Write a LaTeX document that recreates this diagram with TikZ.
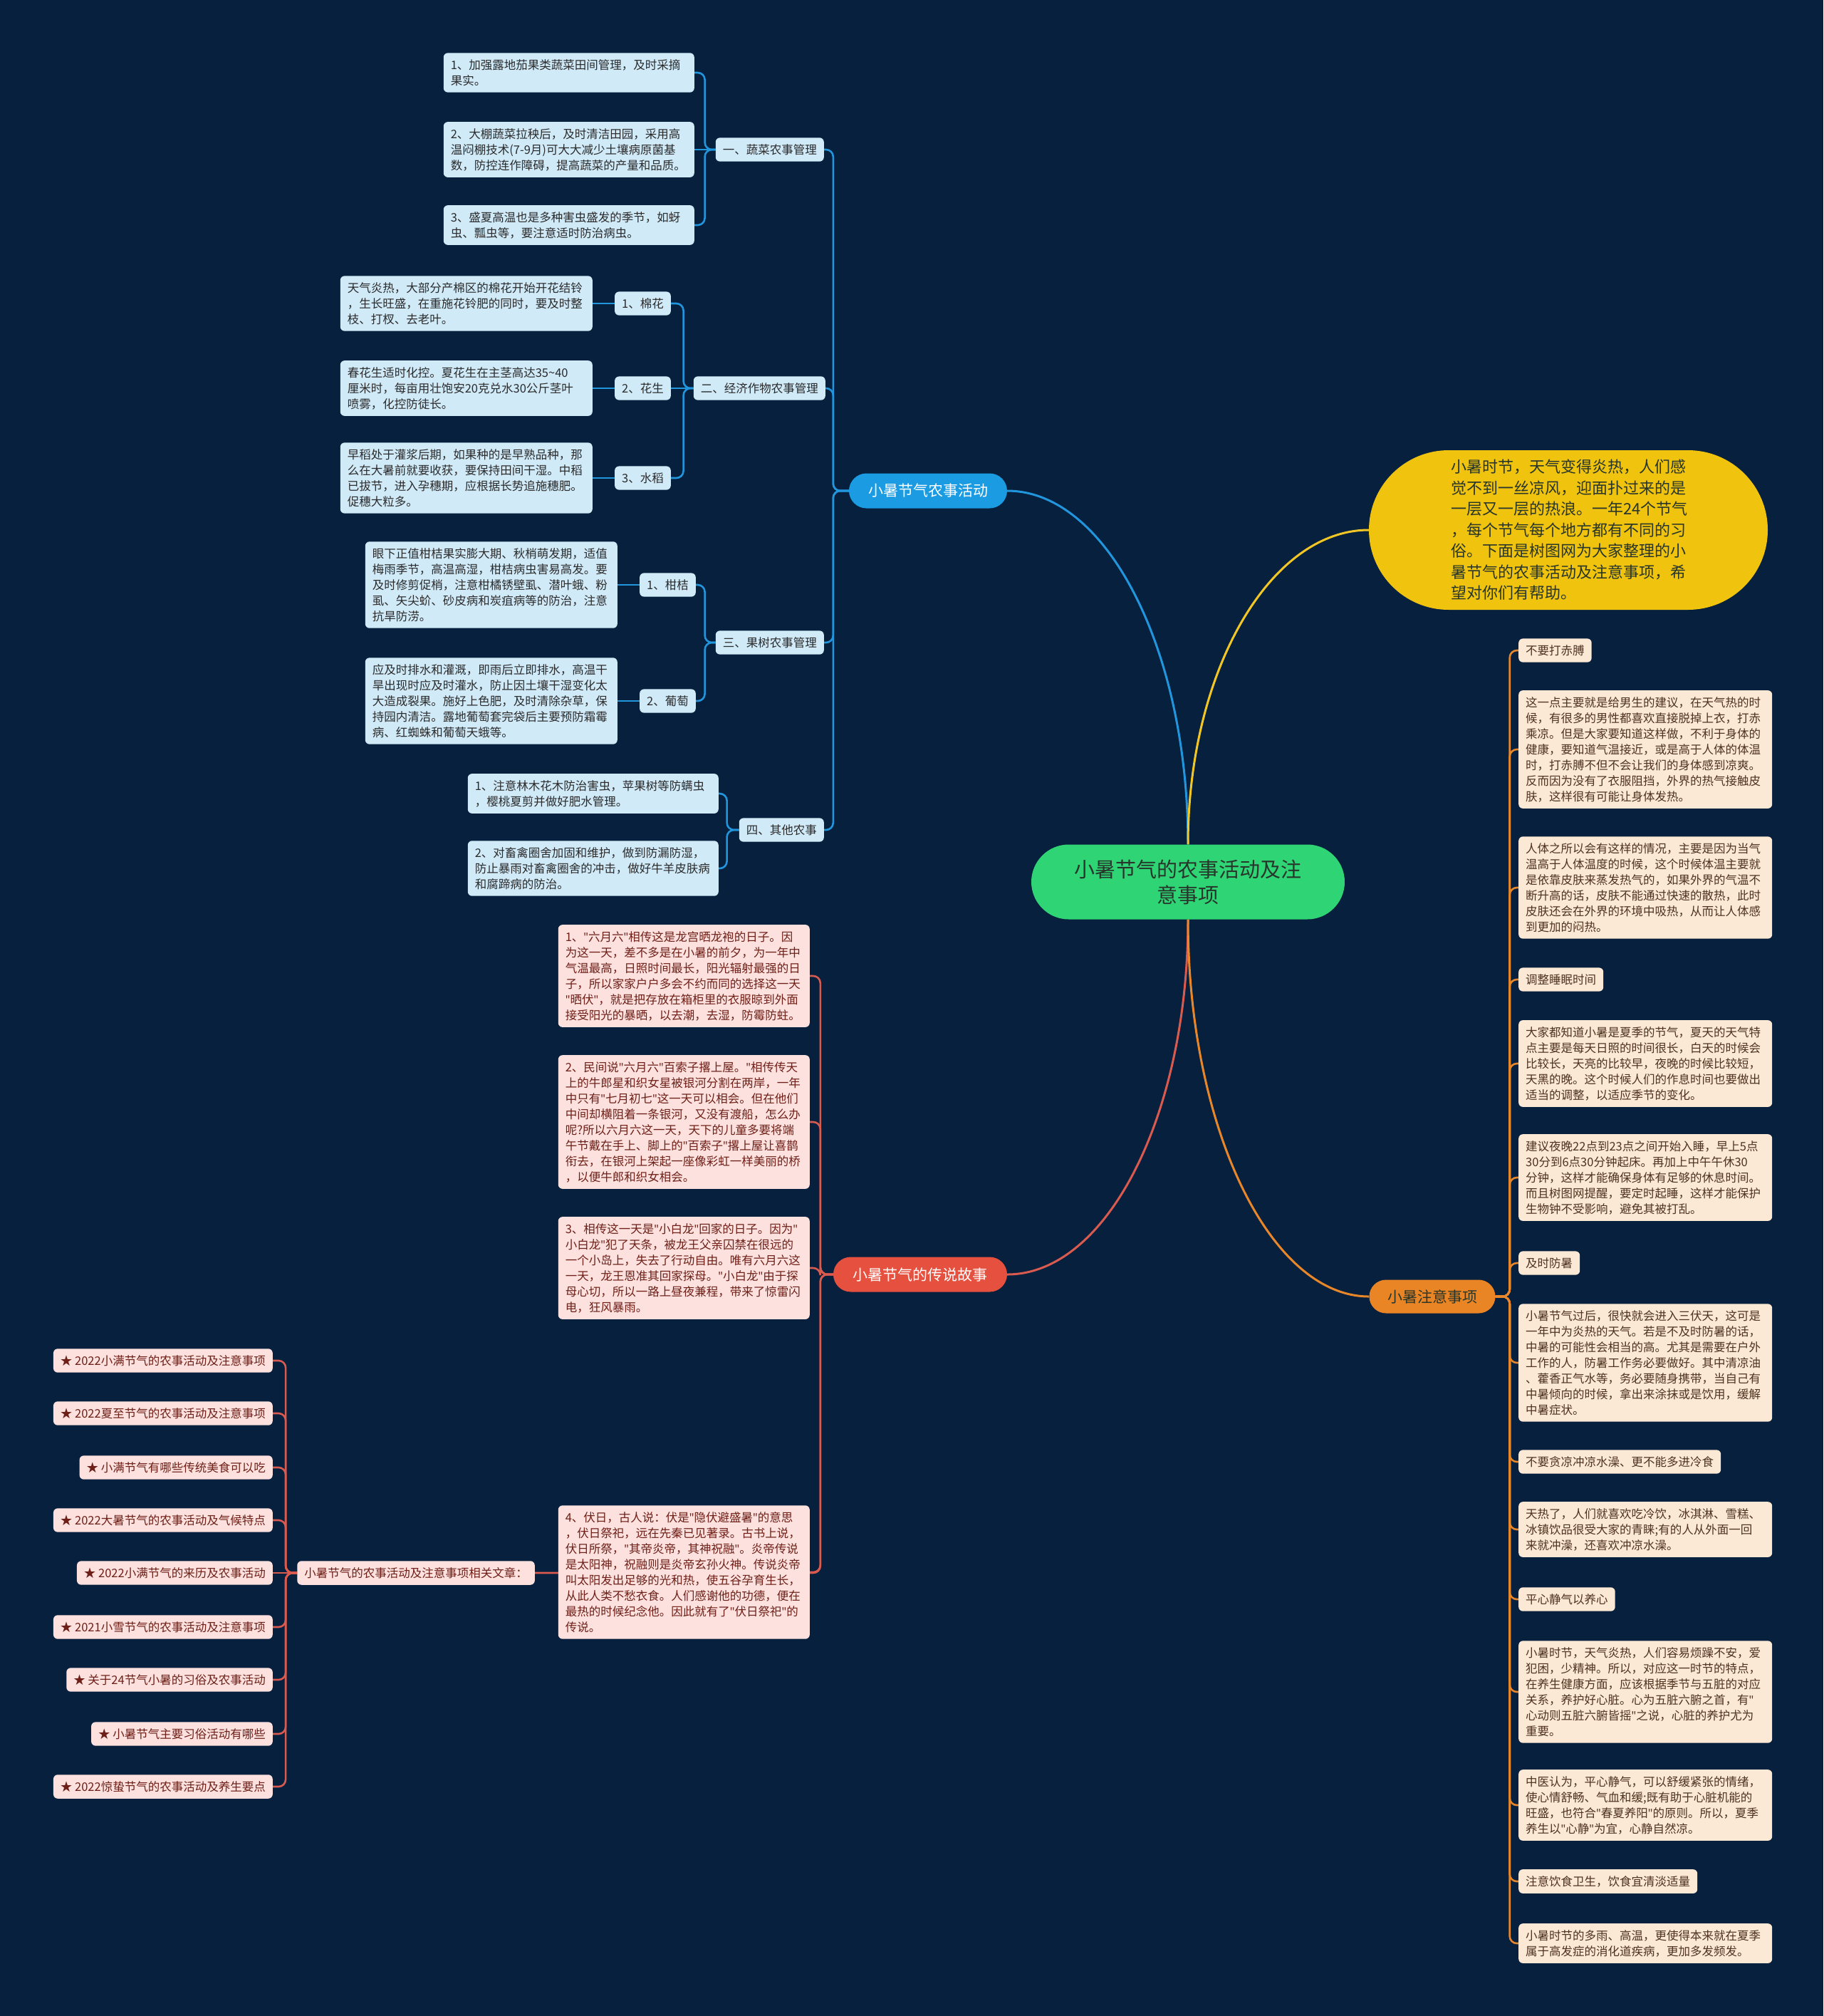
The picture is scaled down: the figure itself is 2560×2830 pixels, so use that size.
\documentclass[tikz,border=0pt]{standalone}
\usepackage{fontspec}
\setmainfont{Noto Sans CJK SC}
\newfontfamily\qfont{Noto Sans}
\newcommand\Q{{\qfont"}}
\definecolor{bgc}{HTML}{06203E}
\definecolor{blueline}{HTML}{2196DC}
\definecolor{bluepill}{HTML}{1A9BE2}
\definecolor{lblue}{HTML}{D0EAF8}
\definecolor{vtxt}{HTML}{2B2B2B}
\definecolor{redline}{HTML}{D95A4E}
\definecolor{redpill}{HTML}{E5503F}
\definecolor{pink}{HTML}{FCE1DE}
\definecolor{rtxt}{HTML}{6E1F17}
\definecolor{orangeline}{HTML}{E8872A}
\definecolor{orangepill}{HTML}{E98524}
\definecolor{beige}{HTML}{FBE8D5}
\definecolor{otxt}{HTML}{4D3320}
\definecolor{yellowpill}{HTML}{F0C30F}
\definecolor{yellowline}{HTML}{F2C625}
\definecolor{greenpill}{HTML}{2FD475}
\definecolor{ctxt}{HTML}{27352B}
\pgfdeclarelayer{lines}
\pgfsetlayers{lines,main}
\begin{document}
\begin{tikzpicture}[x=1pt,y=-1pt,
  every node/.style={inner sep=0pt},
  base/.style={rounded corners=6pt, inner xsep=10pt, inner ysep=9pt, font=\fontsize{16.5}{22}\selectfont, align=left},
  vbox/.style={base, fill=lblue, text=vtxt},
  pbox/.style={base, fill=pink, text=rtxt},
  obox/.style={base, fill=beige, text=otxt},
  pill/.style={align=center, font=\fontsize{21}{25}\selectfont},
  bl/.style={draw=blueline, line width=2.6pt, rounded corners=10pt},
  rl/.style={draw=redline, line width=2.6pt, rounded corners=10pt},
  ol/.style={draw=orangeline, line width=2.6pt, rounded corners=10pt},
]
\useasboundingbox (0,0) rectangle (2560,2830);

% center and main branches
\node[fill=greenpill, text=ctxt, rounded corners=52.5pt, minimum width=440pt, minimum height=105pt, align=center, font=\fontsize{29}{36}\selectfont] (C) at (1668,1238) {小暑节气的农事活动及注\\意事项};
\node[pill, fill=bluepill, text=white, rounded corners=24.5pt, minimum width=222pt, minimum height=49pt] (B) at (1303,689) {小暑节气农事活动};
\node[pill, fill=redpill, text=white, rounded corners=24.5pt, minimum width=244pt, minimum height=49pt] (R) at (1292,1789) {小暑节气的传说故事};
\node[pill, fill=orangepill, text=ctxt, rounded corners=23.5pt, minimum width=177pt, minimum height=47pt] (O) at (2011,1820) {小暑注意事项};
\node[fill=yellowpill, text=ctxt, rounded corners=112pt, minimum width=560pt, minimum height=224pt, align=left, text width=330pt, font=\fontsize{22}{29.5}\selectfont] (Y) at (2202,744) {小暑时节，天气变得炎热，人们感\\觉不到一丝凉风，迎面扑过来的是\\一层又一层的热浪。一年24个节气\\，每个节气每个地方都有不同的习\\俗。下面是树图网为大家整理的小\\暑节气的农事活动及注意事项，希\\望对你们有帮助。};

% blue level 2
\node[vbox, anchor=east] (L1) at (1157,210) {一、蔬菜农事管理};
\node[vbox, anchor=east] (L2) at (1159,545) {二、经济作物农事管理};
\node[vbox, anchor=east] (L3) at (1157,902) {三、果树农事管理};
\node[vbox, anchor=east] (L4) at (1157,1165) {四、其他农事};

% vegetables
\node[vbox, anchor=east, text width=332pt] (v1) at (975,102) {1、加强露地茄果类蔬菜田间管理，及时采摘\\果实。};
\node[vbox, anchor=east, text width=332pt] (v2) at (975,210) {2、大棚蔬菜拉秧后，及时清洁田园，采用高\\温闷棚技术(7-9月)可大大减少土壤病原菌基\\数，防控连作障碍，提高蔬菜的产量和品质。};
\node[vbox, anchor=east, text width=332pt] (v3) at (975,316) {3、盛夏高温也是多种害虫盛发的季节，如蚜\\虫、瓢虫等，要注意适时防治病虫。};

% cash crops
\node[vbox, anchor=east] (c1) at (942,426) {1、棉花};
\node[vbox, anchor=east] (c2) at (942,545) {2、花生};
\node[vbox, anchor=east] (c3) at (942,671) {3、水稻};
\node[vbox, anchor=east, text width=334pt] (d1) at (832,426) {天气炎热，大部分产棉区的棉花开始开花结铃\\，生长旺盛，在重施花铃肥的同时，要及时整\\枝、打杈、去老叶。};
\node[vbox, anchor=east, text width=334pt] (d2) at (832,545) {春花生适时化控。夏花生在主茎高达35\textasciitilde 40\\厘米时，每亩用壮饱安20克兑水30公斤茎叶\\喷雾，化控防徒长。};
\node[vbox, anchor=east, text width=334pt] (d3) at (832,671) {早稻处于灌浆后期，如果种的是早熟品种，那\\么在大暑前就要收获，要保持田间干湿。中稻\\已拔节，进入孕穗期，应根据长势追施穗肥。\\促穗大粒多。};

% fruit trees
\node[vbox, anchor=east] (k1) at (977,821) {1、柑桔};
\node[vbox, anchor=east] (k2) at (977,984) {2、葡萄};
\node[vbox, anchor=east, text width=334pt] (f1) at (867,821) {眼下正值柑桔果实膨大期、秋梢萌发期，适值\\梅雨季节，高温高湿，柑桔病虫害易高发。要\\及时修剪促梢，注意柑橘锈壁虱、潜叶蛾、粉\\虱、矢尖蚧、砂皮病和炭疽病等的防治，注意\\抗旱防涝。};
\node[vbox, anchor=east, text width=334pt] (f2) at (867,984) {应及时排水和灌溉，即雨后立即排水，高温干\\旱出现时应及时灌水，防止因土壤干湿变化太\\大造成裂果。施好上色肥，及时清除杂草，保\\持园内清洁。露地葡萄套完袋后主要预防霜霉\\病、红蜘蛛和葡萄天蛾等。};

% other
\node[vbox, anchor=east, text width=332pt] (e1) at (1009,1114) {1、注意林木花木防治害虫，苹果树等防螨虫\\，樱桃夏剪并做好肥水管理。};
\node[vbox, anchor=east, text width=332pt] (e2) at (1009,1219) {2、对畜禽圈舍加固和维护，做到防漏防湿，\\防止暴雨对畜禽圈舍的冲击，做好牛羊皮肤病\\和腐蹄病的防治。};

% legends
\node[pbox, anchor=east, text width=333pt] (s1) at (1137,1370) {1、\Q{}六月六\Q{}相传这是龙宫晒龙袍的日子。因\\为这一天，差不多是在小暑的前夕，为一年中\\气温最高，日照时间最长，阳光辐射最强的日\\子，所以家家户户多会不约而同的选择这一天\\\Q{}晒伏\Q{}，就是把存放在箱柜里的衣服晾到外面\\接受阳光的暴晒，以去潮，去湿，防霉防蛀。};
\node[pbox, anchor=east, text width=333pt] (s2) at (1137,1575) {2、民间说\Q{}六月六\Q{}百索子撂上屋。\Q{}相传传天\\上的牛郎星和织女星被银河分割在两岸，一年\\中只有\Q{}七月初七\Q{}这一天可以相会。但在他们\\中间却横阻着一条银河，又没有渡船，怎么办\\呢?所以六月六这一天，天下的儿童多要将端\\午节戴在手上、脚上的\Q{}百索子\Q{}撂上屋让喜鹊\\衔去，在银河上架起一座像彩虹一样美丽的桥\\，以便牛郎和织女相会。};
\node[pbox, anchor=east, text width=333pt] (s3) at (1137,1780) {3、相传这一天是\Q{}小白龙\Q{}回家的日子。因为\Q{}\\小白龙\Q{}犯了天条，被龙王父亲囚禁在很远的\\一个小岛上，失去了行动自由。唯有六月六这\\一天，龙王恩准其回家探母。\Q{}小白龙\Q{}由于探\\母心切，所以一路上昼夜兼程，带来了惊雷闪\\电，狂风暴雨。};
\node[pbox, anchor=east, text width=333pt] (s4) at (1137,2207) {4、伏日，古人说：伏是\Q{}隐伏避盛暑\Q{}的意思\\，伏日祭祀，远在先秦已见著录。古书上说，\\伏日所祭，\Q{}其帝炎帝，其神祝融\Q{}。炎帝传说\\是太阳神，祝融则是炎帝玄孙火神。传说炎帝\\叫太阳发出足够的光和热，使五谷孕育生长，\\从此人类不愁衣食。人们感谢他的功德，便在\\最热的时候纪念他。因此就有了\Q{}伏日祭祀\Q{}的\\传说。};
\node[pbox, anchor=east] (rel) at (751,2208) {小暑节气的农事活动及注意事项相关文章：};

% related articles
\node[pbox, anchor=east] (a1) at (383,1910) {★ 2022小满节气的农事活动及注意事项};
\node[pbox, anchor=east] (a2) at (383,1984) {★ 2022夏至节气的农事活动及注意事项};
\node[pbox, anchor=east] (a3) at (383,2060) {★ 小满节气有哪些传统美食可以吃};
\node[pbox, anchor=east] (a4) at (383,2134) {★ 2022大暑节气的农事活动及气候特点};
\node[pbox, anchor=east] (a5) at (383,2208) {★ 2022小满节气的来历及农事活动};
\node[pbox, anchor=east] (a6) at (383,2284) {★ 2021小雪节气的农事活动及注意事项};
\node[pbox, anchor=east] (a7) at (383,2358) {★ 关于24节气小暑的习俗及农事活动};
\node[pbox, anchor=east] (a8) at (383,2434) {★ 小暑节气主要习俗活动有哪些};
\node[pbox, anchor=east] (a9) at (383,2508) {★ 2022惊蛰节气的农事活动及养生要点};

% attention items
\node[obox, anchor=west] (o1) at (2132,913) {不要打赤膊};
\node[obox, anchor=west, text width=336pt] (o2) at (2132,1052) {这一点主要就是给男生的建议，在天气热的时\\候，有很多的男性都喜欢直接脱掉上衣，打赤\\乘凉。但是大家要知道这样做，不利于身体的\\健康，要知道气温接近，或是高于人体的体温\\时，打赤膊不但不会让我们的身体感到凉爽。\\反而因为没有了衣服阻挡，外界的热气接触皮\\肤，这样很有可能让身体发热。};
\node[obox, anchor=west, text width=336pt] (o3) at (2132,1246) {人体之所以会有这样的情况，主要是因为当气\\温高于人体温度的时候，这个时候体温主要就\\是依靠皮肤来蒸发热气的，如果外界的气温不\\断升高的话，皮肤不能通过快速的散热，此时\\皮肤还会在外界的环境中吸热，从而让人体感\\到更加的闷热。};
\node[obox, anchor=west] (o4) at (2132,1375) {调整睡眠时间};
\node[obox, anchor=west, text width=336pt] (o5) at (2132,1493) {大家都知道小暑是夏季的节气，夏天的天气特\\点主要是每天日照的时间很长，白天的时候会\\比较长，天亮的比较早，夜晚的时候比较短，\\天黑的晚。这个时候人们的作息时间也要做出\\适当的调整，以适应季节的变化。};
\node[obox, anchor=west, text width=336pt] (o6) at (2132,1653) {建议夜晚22点到23点之间开始入睡，早上5点\\30分到6点30分钟起床。再加上中午午休30\\分钟，这样才能确保身体有足够的休息时间。\\而且树图网提醒，要定时起睡，这样才能保护\\生物钟不受影响，避免其被打乱。};
\node[obox, anchor=west] (o7) at (2132,1773) {及时防暑};
\node[obox, anchor=west, text width=336pt] (o8) at (2132,1913) {小暑节气过后，很快就会进入三伏天，这可是\\一年中为炎热的天气。若是不及时防暑的话，\\中暑的可能性会相当的高。尤其是需要在户外\\工作的人，防暑工作务必要做好。其中清凉油\\、藿香正气水等，务必要随身携带，当自己有\\中暑倾向的时候，拿出来涂抹或是饮用，缓解\\中暑症状。};
\node[obox, anchor=west] (o9) at (2132,2052) {不要贪凉冲凉水澡、更不能多进冷食};
\node[obox, anchor=west, text width=336pt] (o10) at (2132,2147) {天热了，人们就喜欢吃冷饮，冰淇淋、雪糕、\\冰镇饮品很受大家的青睐;有的人从外面一回\\来就冲澡，还喜欢冲凉水澡。};
\node[obox, anchor=west] (o11) at (2132,2245) {平心静气以养心};
\node[obox, anchor=west, text width=336pt] (o12) at (2132,2375) {小暑时节，天气炎热，人们容易烦躁不安，爱\\犯困，少精神。所以，对应这一时节的特点，\\在养生健康方面，应该根据季节与五脏的对应\\关系，养护好心脏。心为五脏六腑之首，有\Q{}\\心动则五脏六腑皆摇\Q{}之说，心脏的养护尤为\\重要。};
\node[obox, anchor=west, text width=336pt] (o13) at (2132,2534) {中医认为，平心静气，可以舒缓紧张的情绪，\\使心情舒畅、气血和缓;既有助于心脏机能的\\旺盛，也符合\Q{}春夏养阳\Q{}的原则。所以，夏季\\养生以\Q{}心静\Q{}为宜，心静自然凉。};
\node[obox, anchor=west] (o14) at (2132,2641) {注意饮食卫生，饮食宜清淡适量};
\node[obox, anchor=west, text width=336pt] (o15) at (2132,2728) {小暑时节的多雨、高温，更使得本来就在夏季\\属于高发症的消化道疾病，更加多发频发。};

\begin{pgfonlayer}{lines}
\fill[bgc] (0,0) rectangle (2560,2830);
% main curves
\draw[blueline, line width=3pt] (C.north) .. controls (1668,913) and (1554,689) .. (B.east);
\draw[yellowline, line width=3pt] (C.north) .. controls (1668,943) and (1783,744) .. (Y.west);
\draw[redline, line width=3pt] (C.south) .. controls (1668,1565) and (1554,1789) .. (R.east);
\draw[orangeline, line width=3pt] (C.south) .. controls (1668,1582) and (1783,1820) .. (O.west);
% blue
\foreach \t in {L1,L2,L3,L4} \draw[bl] (B.west) -- ++(-22,0) |- (\t.east);
\draw[bl] (L1.west) -- ++(-15,0) |- (v1.east);
\draw[bl] (L1.west) -- (v2.east);
\draw[bl] (L1.west) -- ++(-15,0) |- (v3.east);
\draw[bl] (L2.west) -- ++(-14,0) |- (c1.east);
\draw[bl] (L2.west) -- (c2.east);
\draw[bl] (L2.west) -- ++(-14,0) |- (c3.east);
\draw[bl] (c1.west) -- (d1.east);
\draw[bl] (c2.west) -- (d2.east);
\draw[bl] (c3.west) -- (d3.east);
\draw[bl] (L3.west) -- ++(-15,0) |- (k1.east);
\draw[bl] (L3.west) -- ++(-15,0) |- (k2.east);
\draw[bl] (k1.west) -- (f1.east);
\draw[bl] (k2.west) -- (f2.east);
\draw[bl] (L4.west) -- ++(-17,0) |- (e1.east);
\draw[bl] (L4.west) -- ++(-17,0) |- (e2.east);
% red
\foreach \t in {s1,s2,s3,s4,rel} \draw[rl] (R.west) -- ++(-18,0) |- (\t.east);
\foreach \t in {a1,a2,a3,a4,a6,a7,a8,a9} \draw[rl] (rel.west) -- ++(-16,0) |- (\t.east);
\draw[rl] (rel.west) -- (a5.east);
% orange
\foreach \t in {o1,o2,o3,o4,o5,o6,o7,o8,o9,o10,o11,o12,o13,o14,o15} \draw[ol] (O.east) -- ++(20,0) |- (\t.west);
\end{pgfonlayer}
\end{tikzpicture}
\end{document}
